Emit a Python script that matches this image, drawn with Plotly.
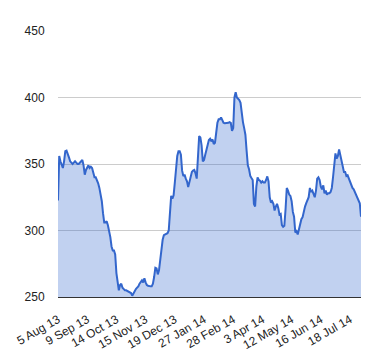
import plotly.graph_objects as go

# Daily closing values (trading days)
values = [
    322.5, 356, 352, 349.5, 347, 352, 359.6, 360, 358, 355,
    352, 351, 350, 351, 352, 351, 350, 350, 351, 352,
    353, 349, 342, 345.5, 348, 349, 347, 348, 347, 342,
    340, 340, 338, 335.5, 332, 328, 322, 313, 306, 306,
    307, 304, 300, 295, 288, 285, 285, 282, 268, 259,
    255, 259, 260, 257, 256, 255, 255, 254.5, 254, 254,
    253, 251, 253, 254, 256, 257, 258, 260, 261, 262.5,
    261, 264, 261, 259, 258.5, 258, 258, 258, 260, 265,
    272, 271.5, 267, 270, 278, 285, 293, 296.5, 297, 297.5,
    298, 300, 315, 326, 324, 326.5, 336, 347, 356, 359.6,
    359.6, 357, 345, 341, 342, 339, 337, 332.6, 336, 339,
    344, 345, 345.5, 343, 339, 355, 371, 370, 364, 352,
    353, 357, 361, 364, 368, 369, 367, 368.5, 365, 366,
    373, 381, 383.6, 383.6, 385, 383, 381, 380.6, 380.6, 380.6,
    381, 381.5, 381, 375, 377, 400, 404, 400, 399.2, 398,
    396, 386, 381.5, 377, 372, 360, 349, 346, 341, 339.4,
    338, 320, 318, 333, 340, 338, 337.5, 336, 337, 336,
    336, 338, 340.7, 337, 325, 321, 322, 320, 315, 318,
    320, 317, 312, 312.5, 304, 302.8, 303.5, 316, 332, 330,
    327, 326, 322, 314, 310.4, 298.5, 299.5, 297, 301, 304,
    308.5, 310, 315, 318, 320.5, 323, 325, 332, 329, 330,
    328, 325, 330, 339, 340, 338, 333, 331, 334, 328,
    330, 327, 328, 328, 329, 332, 340, 350, 358, 354,
    356, 361, 356, 351, 346, 344, 344, 341, 341.5, 339,
    336, 334, 332, 331, 329, 327, 325, 323.5, 320.5, 310.4,
]

tick_labels = ["5 Aug 13", "9 Sep 13", "14 Oct 13", "15 Nov 13", "19 Dec 13",
               "27 Jan 14", "28 Feb 14", "3 Apr 14", "12 May 14", "16 Jun 14",
               "18 Jul 14"]
label_step = 24
y_ticks = [250, 300, 350, 400, 450]

x = list(range(len(values)))
tick_positions = [i * label_step for i in range(len(tick_labels))]

fig = go.Figure()
fig.add_trace(go.Scatter(
    x=x, y=values, mode="lines",
    line=dict(color="#3366cc", width=2),
    fill="tozeroy", fillcolor="rgba(51,102,204,0.3)",
    hoverinfo="skip",
))

fig.update_layout(
    width=372, height=352,
    margin=dict(l=50, r=19, t=23, b=63),
    paper_bgcolor="white", plot_bgcolor="white",
    showlegend=False,
    font=dict(family="Liberation Sans, Arial, sans-serif", size=12, color="#222222"),
    xaxis=dict(
        range=[0, len(values) - 1],
        tickvals=tick_positions, ticktext=tick_labels,
        tickangle=-30, showgrid=False, zeroline=False,
        showline=True, linecolor="#333333", linewidth=1,
        ticks="outside", ticklen=10, tickcolor="rgba(0,0,0,0)",
        automargin=False, fixedrange=True,
    ),
    yaxis=dict(
        range=[250, 450], tickvals=y_ticks,
        showgrid=True, gridcolor="#cccccc", gridwidth=1,
        zeroline=False, showline=False,
        ticks="outside", ticklen=10, tickcolor="rgba(0,0,0,0)",
        automargin=False, fixedrange=True,
    ),
)

fig.write_html("out.html")
